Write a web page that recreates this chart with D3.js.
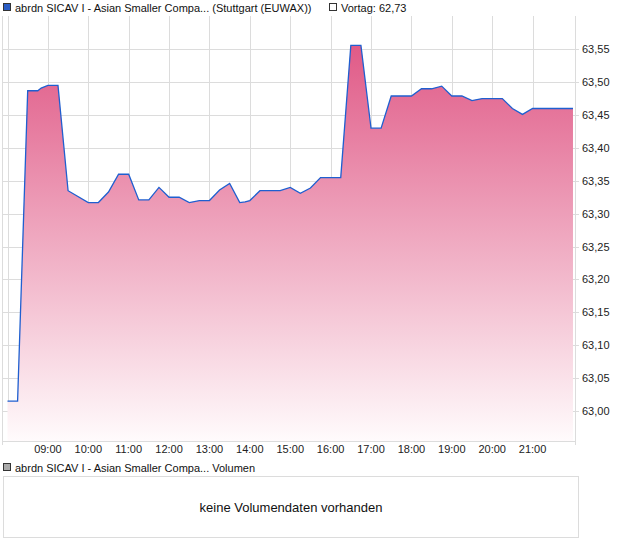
<!DOCTYPE html>
<html><head><meta charset="utf-8">
<script src="https://cdn.jsdelivr.net/npm/d3@7/dist/d3.min.js"></script>
<style>body{margin:0;background:#fff}svg{display:block;font-family:"Liberation Sans",Arial,sans-serif}</style>
</head><body>
<script>
const legendTitle = "abrdn SICAV I - Asian Smaller Compa... (Stuttgart (EUWAX))";
const prevLabel = "Vortag: 62,73";
const volLegend = "abrdn SICAV I - Asian Smaller Compa... Volumen";
const volMessage = "keine Volumendaten vorhanden";

const times = ["08:00","08:15","08:30","08:45","08:50","09:00","09:15","09:30","10:00","10:15",
  "10:30","10:45","11:00","11:15","11:30","11:45","12:00","12:15","12:30","12:45",
  "13:00","13:15","13:30","13:45","13:53","14:00","14:15","14:45","15:00","15:15",
  "15:30","15:45","16:15","16:30","16:45","17:00","17:15","17:30","18:00","18:15",
  "18:30","18:45","19:00","19:15","19:30","19:45","20:15","20:30","20:45","21:00","22:00"];
const prices = [63.015,63.015,63.487,63.487,63.491,63.495,63.495,63.335,63.317,63.317,
  63.333,63.360,63.360,63.321,63.321,63.340,63.325,63.325,63.317,63.320,
  63.320,63.336,63.346,63.317,63.318,63.320,63.335,63.335,63.340,63.331,
  63.339,63.355,63.355,63.556,63.556,63.430,63.430,63.479,63.479,63.490,
  63.490,63.494,63.479,63.479,63.472,63.475,63.475,63.460,63.451,63.460,63.460];
const yTicks = [63.00,63.05,63.10,63.15,63.20,63.25,63.30,63.35,63.40,63.45,63.50,63.55];
const xTicks = ["08:00","09:00","10:00","11:00","12:00","13:00","14:00","15:00","16:00","17:00","18:00","19:00","20:00","21:00"];

const W = 620, H = 546;
const pLeft = 7.5, pRight = 575, pTop = 16, pBottom = 441;
const parseT = s => { const [h,m] = s.split(":").map(Number); return new Date(2024,0,2,h,m); };
const data = times.map((t,i) => ({t: parseT(t), v: prices[i]}));

const x = d3.scaleTime().domain([parseT("08:00"), parseT("22:03")]).range([pLeft, pRight]);
const y = d3.scaleLinear().domain([63.00, 63.55]).range([411, 49.3]);

const svg = d3.select("body").append("svg").attr("width", W).attr("height", H);
svg.append("rect").attr("width", W).attr("height", H).attr("fill", "#fff");

const defs = svg.append("defs");
const grad = defs.append("linearGradient").attr("id","fillg").attr("gradientUnits","userSpaceOnUse")
  .attr("x1",0).attr("x2",0).attr("y1", y(d3.max(prices))).attr("y2", pBottom);
grad.append("stop").attr("offset","0%").attr("stop-color","#e05a87");
grad.append("stop").attr("offset","100%").attr("stop-color","#fffbfc");

const grid = svg.append("g").attr("stroke","#dcdcdc").attr("stroke-width",1).attr("shape-rendering","crispEdges");
yTicks.forEach(v => grid.append("line").attr("x1",3).attr("x2",pRight+4).attr("y1",Math.round(y(v))+0.5).attr("y2",Math.round(y(v))+0.5));
xTicks.forEach(t => grid.append("line").attr("x1",Math.round(x(parseT(t)))+0.5).attr("x2",Math.round(x(parseT(t)))+0.5).attr("y1",pTop).attr("y2",pBottom));
grid.append("line").attr("x1",2.5).attr("x2",2.5).attr("y1",pTop).attr("y2",pBottom+4);
grid.append("line").attr("x1",pRight+0.5).attr("x2",pRight+0.5).attr("y1",pTop).attr("y2",pBottom+4);
grid.append("line").attr("x1",2.5).attr("x2",pRight+0.5).attr("y1",pBottom+0.5).attr("y2",pBottom+0.5);

const area = d3.area().x(d => x(d.t)).y0(pBottom).y1(d => y(d.v));
svg.append("path").datum(data).attr("d", area).attr("fill","url(#fillg)");
const line = d3.line().x(d => x(d.t)).y(d => y(d.v));
svg.append("path").datum(data).attr("d", line).attr("fill","none").attr("stroke","#1f5fd0").attr("stroke-width",1.3);

const fmt = v => v.toFixed(2).replace(".", ",");
const yl = svg.append("g").attr("font-size",11).attr("fill","#222");
yTicks.forEach(v => yl.append("text").attr("x",582).attr("y",y(v)+4).text(fmt(v)));
const xl = svg.append("g").attr("font-size",11).attr("fill","#222").attr("text-anchor","middle");
xTicks.slice(1).forEach(t => xl.append("text").attr("x",x(parseT(t))).attr("y",453).text(t));

// legend
svg.append("rect").attr("x",3.5).attr("y",3.5).attr("width",7).attr("height",7).attr("fill","#2a5cc4").attr("stroke","#333");
svg.append("text").attr("x",15).attr("y",12).attr("font-size",11).attr("fill","#111").text(legendTitle);
svg.append("rect").attr("x",329.5).attr("y",3.5).attr("width",7).attr("height",7).attr("fill","#fff").attr("stroke","#333");
svg.append("text").attr("x",341).attr("y",12).attr("font-size",11).attr("fill","#111").text(prevLabel);

// volume panel
svg.append("rect").attr("x",3.5).attr("y",463.5).attr("width",7).attr("height",7).attr("fill","#aaa").attr("stroke","#333");
svg.append("text").attr("x",15).attr("y",472).attr("font-size",11).attr("fill","#111").text(volLegend);
svg.append("rect").attr("x",3.5).attr("y",476.5).attr("width",575).attr("height",61).attr("fill","#fff").attr("stroke","#dcdcdc");
svg.append("text").attr("x",291).attr("y",512).attr("font-size",13).attr("text-anchor","middle").attr("fill","#111").text(volMessage);
</script>
</body></html>
